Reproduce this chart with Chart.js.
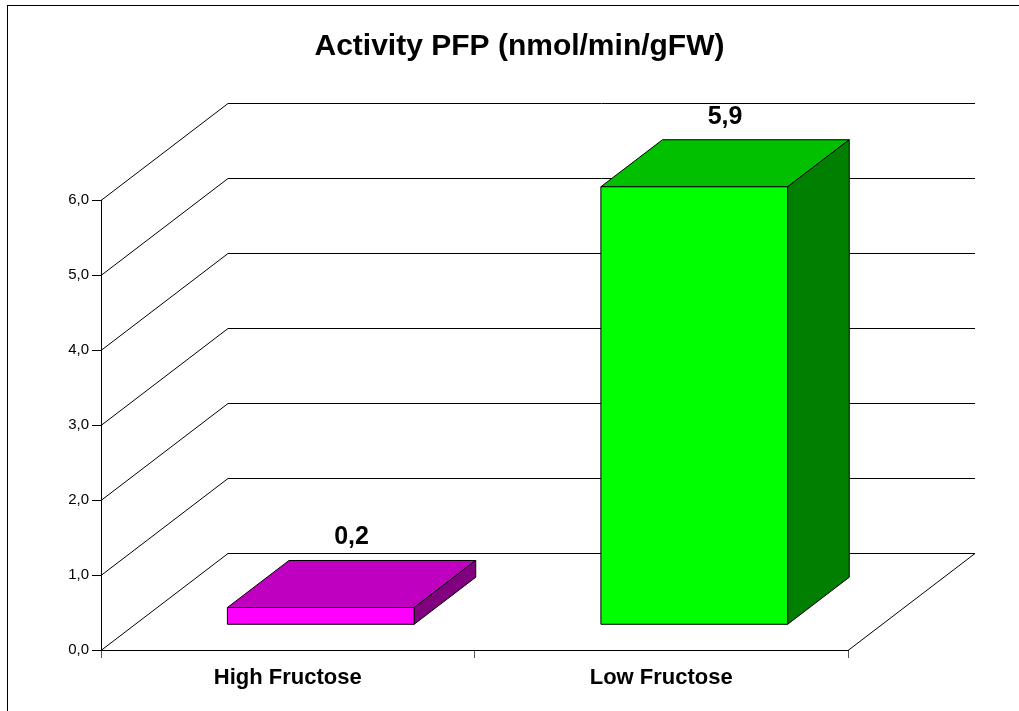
<!DOCTYPE html>
<html>
<head>
<meta charset="utf-8">
<script src="https://cdn.jsdelivr.net/npm/chart.js@4/dist/chart.umd.min.js"></script>
<style>
  body { margin: 0; background: #fff; }
  #wrap { width: 1019px; height: 711px; }
</style>
</head>
<body>
<div id="wrap"><canvas id="pfpChart" width="1019" height="711"></canvas></div>
<script>
// dados
const categories = ['High Fructose', 'Low Fructose'];
const activityValues = [0.23, 5.84];
const valueLabels = ['0,2', '5,9'];
const frontColors = ['#FF00FF', '#00FF00'];
const topColors = ['#C000C0', '#00C000'];
const sideColors = ['#800080', '#007F00'];
const yMin = 0, yMax = 6, yStep = 1;

// profundidade do 3D
const DEPTH_X = 127, DEPTH_Y = -97;
const BAR_FRONT = 0.26, BAR_BACK = 0.745;

const walls3d = {
    id: 'walls3d',
    beforeDatasetsDraw(chart) {
        const ctx = chart.ctx;
        const y = chart.scales.y;
        const a = chart.chartArea;
        ctx.save();
        // moldura externa
        ctx.strokeStyle = '#000';
        ctx.lineWidth = 1;
        ctx.strokeRect(7.5, 5.5, 1100, 800);
        ctx.beginPath();
        for (let v = yMin; v <= yMax; v += yStep) {
            const py = Math.round(y.getPixelForValue(v)) + 0.5;
            ctx.moveTo(a.left, py);
            ctx.lineTo(a.left + DEPTH_X, py + DEPTH_Y);
            ctx.lineTo(a.right + DEPTH_X, py + DEPTH_Y);
        }
        // borda direita do piso
        const base = Math.round(y.getPixelForValue(0)) + 0.5;
        ctx.moveTo(a.right, base);
        ctx.lineTo(a.right + DEPTH_X, base + DEPTH_Y);
        ctx.stroke();
        ctx.restore();
    },
    afterDatasetsDraw(chart) {
        const ctx = chart.ctx;
        const meta = chart.getDatasetMeta(0);
        const ox0 = BAR_FRONT * DEPTH_X, oy0 = BAR_FRONT * DEPTH_Y;
        const ox1 = BAR_BACK * DEPTH_X, oy1 = BAR_BACK * DEPTH_Y;
        ctx.save();
        ctx.lineWidth = 1;
        ctx.strokeStyle = '#000';
        ctx.lineJoin = 'miter';
        meta.data.forEach((bar, i) => {
            const L = bar.x - bar.width / 2, R = bar.x + bar.width / 2;
            const T = bar.y, B = bar.base;
            const poly = (pts, fill) => {
                ctx.beginPath();
                ctx.moveTo(pts[0][0], pts[0][1]);
                pts.slice(1).forEach(p => ctx.lineTo(p[0], p[1]));
                ctx.closePath();
                ctx.fillStyle = fill;
                ctx.fill();
                ctx.stroke();
            };
            // topo
            poly([[L + ox0, T + oy0], [R + ox0, T + oy0], [R + ox1, T + oy1], [L + ox1, T + oy1]], topColors[i]);
            // lateral
            poly([[R + ox0, T + oy0], [R + ox1, T + oy1], [R + ox1, B + oy1], [R + ox0, B + oy0]], sideColors[i]);
            // frente
            poly([[L + ox0, T + oy0], [R + ox0, T + oy0], [R + ox0, B + oy0], [L + ox0, B + oy0]], frontColors[i]);
            // rótulo do valor
            ctx.fillStyle = '#000';
            ctx.font = 'bold 25px Arial, "Liberation Sans", sans-serif';
            ctx.textAlign = 'center';
            ctx.textBaseline = 'alphabetic';
            ctx.fillText(valueLabels[i], bar.x + (ox0 + ox1) / 2, T + oy1 - 16);
        });
        ctx.restore();
    }
};

new Chart(document.getElementById('pfpChart'), {
    type: 'bar',
    data: {
        labels: categories,
        datasets: [{
            label: 'Activity PFP',
            data: activityValues,
            backgroundColor: 'rgba(0,0,0,0)',
            borderWidth: 0,
            categoryPercentage: 1,
            barPercentage: 0.5
        }]
    },
    options: {
        responsive: false,
        animation: false,
        layout: { padding: { left: 20, right: 0, top: 0, bottom: 0 } },
        plugins: {
            legend: { display: false },
            tooltip: { enabled: false },
            title: {
                display: true,
                text: 'Activity PFP (nmol/min/gFW)',
                color: '#000',
                font: { family: 'Arial, "Liberation Sans", sans-serif', size: 30, weight: 'bold' },
                padding: { top: 29, bottom: 135 }
            }
        },
        scales: {
            x: {
                offset: true,
                grid: { drawOnChartArea: false, offset: true, tickLength: 8, color: '#555' },
                border: { display: true, color: '#000', width: 1 },
                ticks: {
                    color: '#000',
                    padding: 7,
                    font: { family: 'Arial, "Liberation Sans", sans-serif', size: 22, weight: 'bold' }
                },
                afterFit(s) { s.height = 61; }
            },
            y: {
                min: yMin,
                max: yMax,
                ticks: {
                    stepSize: yStep,
                    color: '#000',
                    padding: 3,
                    font: { family: 'Arial, "Liberation Sans", sans-serif', size: 15 },
                    callback: v => v.toFixed(1).replace('.', ',')
                },
                grid: { drawOnChartArea: false, tickLength: 9, color: '#000' },
                border: { display: true, color: '#000', width: 1 },
                afterFit(s) { s.width = 81; }
            },
            yRight: {
                type: 'linear',
                position: 'right',
                display: true,
                grid: { display: false },
                border: { display: false },
                ticks: { display: false },
                afterFit(s) { s.width = 171; }
            }
        }
    },
    plugins: [walls3d]
});
</script>
</body>
</html>
